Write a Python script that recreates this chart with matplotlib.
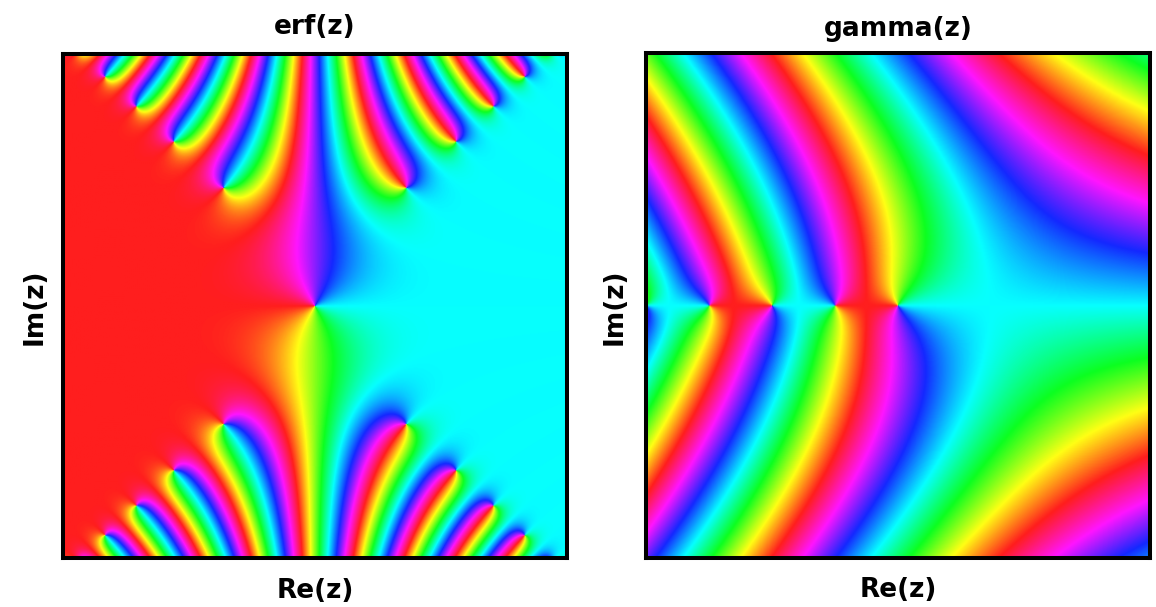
import numpy as np
import matplotlib
matplotlib.use('Agg')
import matplotlib.pyplot as plt
from matplotlib.colors import LinearSegmentedColormap

plt.rcParams['font.family'] = ['DejaVu Sans']

titles = ['erf(z)', 'gamma(z)']
xlabel = 'Re(z)'
ylabel = 'Im(z)'
re_range = [-4, 4]
im_range = [-4, 4]

# NOTE: the fringes are the phase of the functions named in the titles,
# they are computed here and not read off the picture cell by cell.
lanczos = [0.99999999999980993, 676.5203681218851, -1259.1392167224028,
           771.32342877765313, -176.61502916214059, 12.507343278686905,
           -0.13857109526572012, 9.9843695780195716e-6, 1.5056327351493116e-7]


def erf(z):
    # taylor series, good enough for |z| < 6 in double precision
    term = z.copy()
    total = z.copy()
    for n in range(1, 260):
        term = term * (-z * z) / n
        total = total + term / (2 * n + 1)
    return 2 / np.sqrt(np.pi) * total


def gamma(z):
    # lanczos with the reflection formula for the left half plane
    flip = z.real < 0.5
    w = np.where(flip, 1 - z, z) - 1
    a = np.full(w.shape, lanczos[0], dtype=complex)
    for i in range(1, len(lanczos)):
        a = a + lanczos[i] / (w + i)
    t = w + 7.5
    g = np.sqrt(2 * np.pi) * t ** (w + 0.5) * np.exp(-t) * a
    return np.where(flip, np.pi / (np.sin(np.pi * z) * g), g)


re = np.linspace(re_range[0], re_range[1], 500)
im = np.linspace(im_range[0], im_range[1], 500)
X, Y = np.meshgrid(re, im)
Z = X + 1j * Y

cmap = LinearSegmentedColormap.from_list('phase', ['#ff1e1e', '#ffff14', '#0cff20', '#06ffff',
                                                   '#1428ff', '#ff14ff', '#ff1e1e'], N=512)

W, H = 1156, 607
fig = plt.figure(figsize=(W / 100, H / 100), dpi=100)

# frame centre lines in pixels: left, right, top, bottom
boxes = [(63, 567, 54, 558), (646, 1150, 53, 558)]
funcs = [erf, gamma]
title_pos = [(315, 27), (898, 29)]
xlabel_pos = [(315, 591), (898, 590)]
ylabel_pos = [(35, 307), (615, 307)]

for k in range(2):
    l, r, t, b = boxes[k]
    ax = fig.add_axes([l / W, 1 - b / H, (r - l) / W, (b - t) / H])
    with np.errstate(all='ignore'):
        phase = np.angle(funcs[k](Z))
    ax.imshow(phase, cmap=cmap, vmin=-np.pi, vmax=np.pi, origin='lower', aspect='auto',
              extent=re_range + im_range, interpolation='bilinear', interpolation_stage='rgba')
    ax.set_xticks([])
    ax.set_yticks([])
    for s in ax.spines.values():
        s.set_linewidth(2.9)
        s.set_color('black')

    fig.text(title_pos[k][0] / W, 1 - title_pos[k][1] / H, titles[k], ha='center', va='center',
             fontsize=19, fontweight='bold')
    fig.text(xlabel_pos[k][0] / W, 1 - xlabel_pos[k][1] / H, xlabel, ha='center', va='center',
             fontsize=19, fontweight='bold')
    fig.text(ylabel_pos[k][0] / W, 1 - ylabel_pos[k][1] / H, ylabel, ha='center', va='center',
             rotation=90, fontsize=19, fontweight='bold')

fig.savefig('out.png', dpi=100)
